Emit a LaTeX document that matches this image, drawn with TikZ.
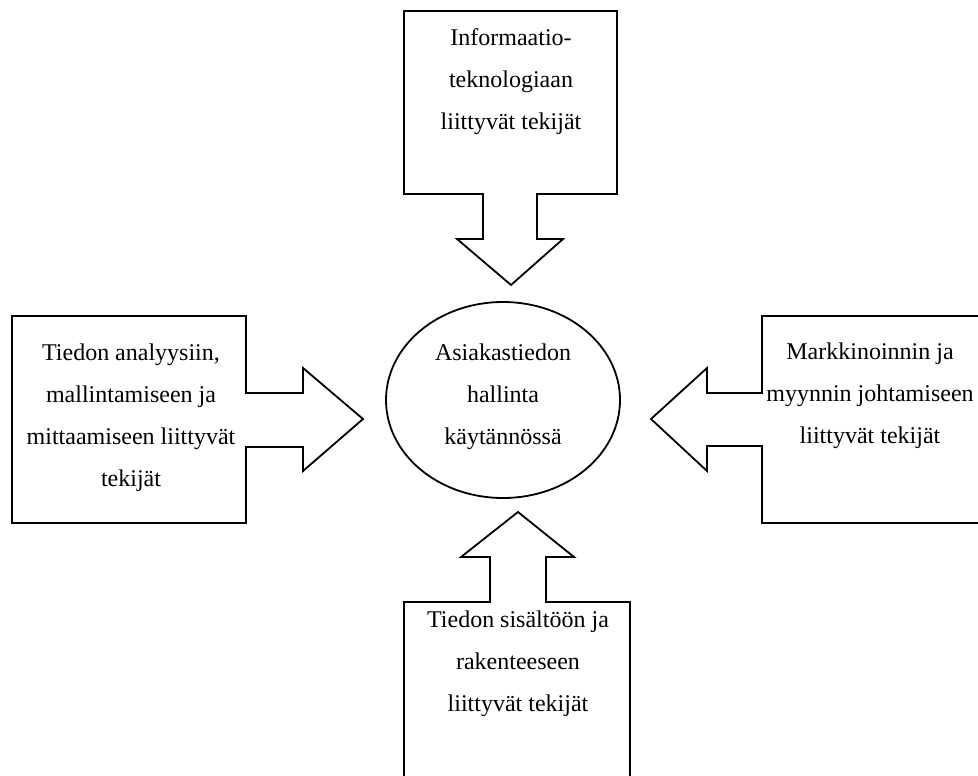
\documentclass[tikz,border=0pt]{standalone}
\usepackage{fontspec}
\setmainfont{Liberation Serif}
\usepackage{tikz}
\usetikzlibrary{shapes.geometric}
\tikzset{callout/.style = {draw, line width=0.9pt, line join=miter},
         lbl/.style = {align=center, inner sep=0pt,
                       font=\fontsize{12}{21}\selectfont}}

\begin{document}
\begin{tikzpicture}[x=0.5pt, y=-0.5pt]
      \useasboundingbox (0, 0) rectangle (978, 775);
      \clip (0, 0) rectangle (978, 775);

      \draw [callout] (404, 11) -- (617, 11) -- (617, 194) -- (537, 194) -- (537, 239) -- (563, 239)
            -- (511, 285) -- (457, 239) -- (483, 239) -- (483, 194) -- (404, 194) -- cycle;
      \draw [callout] (12, 316) -- (246, 316) -- (246, 393) -- (303, 393) -- (303, 368) -- (363, 419)
            -- (303, 471) -- (303, 447) -- (246, 447) -- (246, 523) -- (12, 523) -- cycle;
      \draw [callout] (1000, 316) -- (762, 316) -- (762, 393) -- (707, 393) -- (707, 368) -- (651, 419)
            -- (707, 471) -- (707, 446) -- (762, 446) -- (762, 523) -- (1000, 523);
      \draw [callout] (404, 800) -- (404, 602) -- (490, 602) -- (490, 557) -- (461, 557) -- (518, 512)
            -- (574, 557) -- (546, 557) -- (546, 602) -- (630, 602) -- (630, 800);

      \node [ellipse, draw, line width=0.9pt, minimum width=117pt, minimum height=98pt, inner sep=0pt]
            (hallinta) at (503, 400) {};
      \node [lbl] (hallintatxt) at (503, 397) {Asiakastiedon\\hallinta\\käytännössä};

      \node [lbl] (tieto) at (511, 82) {Informaatio-\\teknologiaan\\liittyvät tekijät};
      \node [lbl] (analyysi) at (131, 418) {Tiedon analyysiin,\\mallintamiseen ja\\mittaamiseen liittyvät\\tekijät};
      \node [lbl] (markkinointi) at (870, 396) {Markkinoinnin ja\\myynnin johtamiseen\\liittyvät tekijät};
      \node [lbl] (sisalto) at (518, 664) {Tiedon sisältöön ja\\rakenteeseen\\liittyvät tekijät};
    \end{tikzpicture}
\end{document}
